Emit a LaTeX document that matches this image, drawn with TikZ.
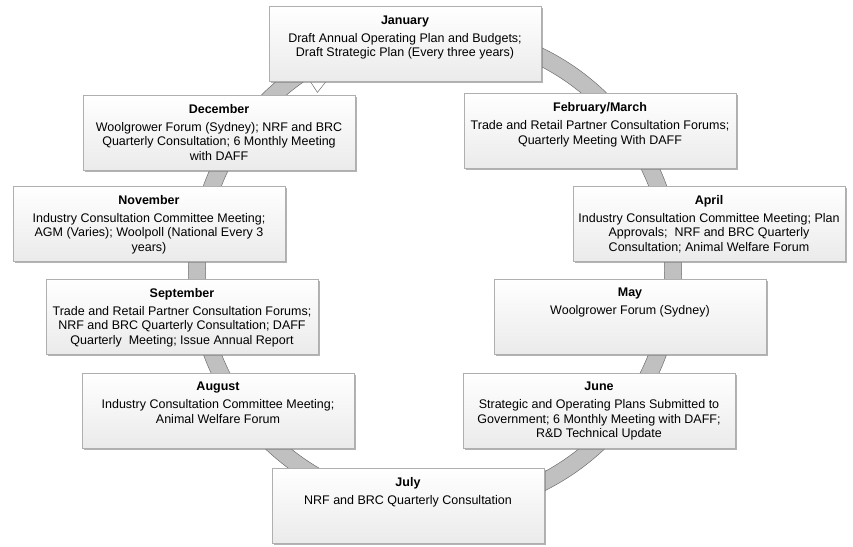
\documentclass[tikz,border=0pt]{standalone}
\usepackage{fontspec}
\setmainfont{Liberation Sans}
\usetikzlibrary{positioning, shadows}
\definecolor{ringgray}{RGB}{192,192,192}
\definecolor{ringedge}{RGB}{110,110,110}
\definecolor{boxedge}{RGB}{175,175,175}

\begin{document}
\begin{tikzpicture}[x=1pt, y=-1pt,
  monthbox/.style={draw=boxedge, top color=white, bottom color=black!8,
                   minimum width=272pt, minimum height=75pt, inner sep=0pt,
                   drop shadow={shadow xshift=1.5pt, shadow yshift=-1.5pt,
                                fill=black!50, opacity=0.6}},
  monthtext/.style={align=center, inner sep=0pt,
                    font=\fontsize{12.5}{14.5}\selectfont}]
  \useasboundingbox (0,0) rectangle (853,546);
  \coordinate (ctr) at (435,270);

  % Ring behind the boxes
  \fill[ringgray, draw=ringedge, line width=0.5pt]
    ([shift={(-80:246.5)}]ctr) arc[start angle=-80, end angle=236.5, radius=246.5]
    -- ([shift={(236.5:229.5)}]ctr) arc[start angle=236.5, end angle=-80, radius=229.5]
    -- cycle;
  % Arrow head into January
  \filldraw[fill=white, draw=ringedge, line width=0.5pt]
    ([shift={(236.5:263)}]ctr) -- ([shift={(250:238)}]ctr)
    -- ([shift={(236.5:213)}]ctr) -- cycle;

  % January
  \node[monthbox] (jan) at (405,44) {};
  \node[monthtext, below=9pt of jan.north] (jan-t)
    {\textbf{January}\\[3.5pt]Draft Annual Operating Plan and Budgets;\\
     Draft Strategic Plan (Every three years)};
  % February/March
  \node[monthbox] (feb) at (600,131) {};
  \node[monthtext, below=9pt of feb.north] (feb-t)
    {\textbf{February/March}\\[3.5pt]Trade and Retail Partner Consultation Forums;\\
     Quarterly Meeting With DAFF};
  % April
  \node[monthbox] (apr) at (709,223.5) {};
  \node[monthtext, below=9pt of apr.north] (apr-t)
    {\textbf{April}\\[3.5pt]Industry Consultation Committee Meeting; Plan\\
     Approvals;\ \ NRF and BRC Quarterly\\Consultation; Animal Welfare Forum};
  % May
  \node[monthbox] (may) at (630,316.5) {};
  \node[monthtext, below=9pt of may.north] (may-t)
    {\textbf{May}\\[3.5pt]Woolgrower Forum (Sydney)};
  % June
  \node[monthbox] (jun) at (599,410.5) {};
  \node[monthtext, below=9pt of jun.north] (jun-t)
    {\textbf{June}\\[3.5pt]Strategic and Operating Plans Submitted to\\
     Government; 6 Monthly Meeting with DAFF;\\R\&D Technical Update};
  % July
  \node[monthbox] (jul) at (408,505.5) {};
  \node[monthtext, below=9pt of jul.north] (jul-t)
    {\textbf{July}\\[3.5pt]NRF and BRC Quarterly Consultation};
  % August
  \node[monthbox] (aug) at (218,410.5) {};
  \node[monthtext, below=9pt of aug.north] (aug-t)
    {\textbf{August}\\[3.5pt]Industry Consultation Committee Meeting;\\
     Animal Welfare Forum};
  % September
  \node[monthbox] (sep) at (182,316.5) {};
  \node[monthtext, below=9pt of sep.north] (sep-t)
    {\textbf{September}\\[3.5pt]Trade and Retail Partner Consultation Forums;\\
     NRF and BRC Quarterly Consultation; DAFF\\
     Quarterly\ \ Meeting; Issue Annual Report};
  % November
  \node[monthbox] (nov) at (149,223.5) {};
  \node[monthtext, below=9pt of nov.north] (nov-t)
    {\textbf{November}\\[3.5pt]Industry Consultation Committee Meeting;\\
     AGM (Varies); Woolpoll (National Every 3\\years)};
  % December
  \node[monthbox] (dec) at (219,132.5) {};
  \node[monthtext, below=9pt of dec.north] (dec-t)
    {\textbf{December}\\[3.5pt]Woolgrower Forum (Sydney); NRF and BRC\\
     Quarterly Consultation; 6 Monthly Meeting\\with DAFF};
\end{tikzpicture}
\end{document}
